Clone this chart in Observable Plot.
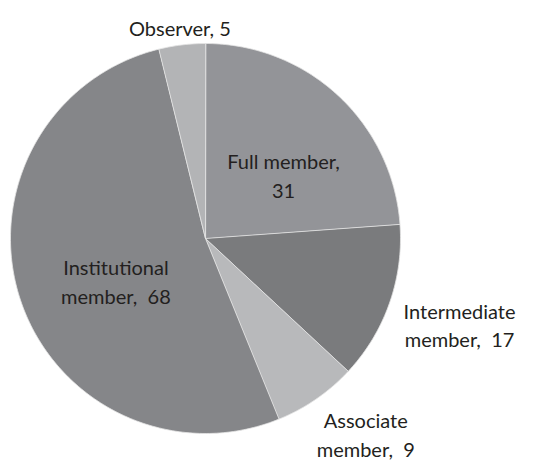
<!DOCTYPE html>
<html>
<head>
<meta charset="utf-8">
<script src="https://cdn.jsdelivr.net/npm/d3@7"></script>
<script src="https://cdn.jsdelivr.net/npm/@observablehq/plot@0.6"></script>
<style>
  html, body { margin: 0; padding: 0; background: #fff; }
  #chart svg { display: block; }
</style>
</head>
<body>
<div id="chart"></div>
<script>
// Data
const categories = ["Full member", "Intermediate member", "Associate member", "Institutional member", "Observer"];
const values = [31, 17, 9, 68, 5];
const labels = ["Full member,\n31", "Intermediate\nmember,  17", "Associate\nmember,  9", "Institutional\nmember,  68", "Observer, 5"];
const colors = ["#939498", "#7a7b7d", "#b8b9bb", "#858689", "#b3b4b6"];
// label placement: distance from centre (fraction of radius) and small nudges
const labelRadius = [0.52, 1.37, 1.32, 0.51, 1.09];
const labelNudgeX = [9, 2, 14, 5, 0];
const labelNudgeY = [10, -3, -17, 11, -1];

const W = 535, H = 462;
const cx = 205, cy = 238, R = 195;

const arcs = d3.pie().sort(null).value(d => d)(values);

// Build slice outlines (y down) from the pie angles
const slicePts = [];
arcs.forEach((a, i) => {
  const n = Math.max(8, Math.ceil((a.endAngle - a.startAngle) * 180 / Math.PI));
  slicePts.push({name: categories[i], x: 0, y: 0});
  for (let j = 0; j <= n; j++) {
    const t = a.startAngle + (a.endAngle - a.startAngle) * j / n;
    slicePts.push({name: categories[i], x: R * Math.sin(t), y: -R * Math.cos(t)});
  }
});

const labelData = arcs.map((a, i) => {
  const m = (a.startAngle + a.endAngle) / 2;
  return {
    text: labels[i],
    x: labelRadius[i] * R * Math.sin(m) + labelNudgeX[i],
    y: -labelRadius[i] * R * Math.cos(m) + labelNudgeY[i]
  };
});

const chart = Plot.plot({
  width: W,
  height: H,
  margin: 0,
  x: {domain: [-cx, W - cx], range: [0, W], axis: null},
  y: {domain: [-cy, H - cy], range: [0, H], axis: null},
  color: {domain: categories, range: colors},
  style: {fontFamily: "Lato, 'Open Sans', sans-serif", background: "#fff"},
  marks: [
    Plot.line(slicePts, {x: "x", y: "y", z: "name", fill: "name", stroke: "#e4e4e4", strokeWidth: 0.8, curve: "linear-closed"}),
    Plot.text(labelData, {x: "x", y: "y", text: "text", fontSize: 20, lineHeight: 1.42, fill: "#231f20", textAnchor: "middle", lineAnchor: "middle"})
  ]
});

document.getElementById("chart").appendChild(chart);
</script>
</body>
</html>
